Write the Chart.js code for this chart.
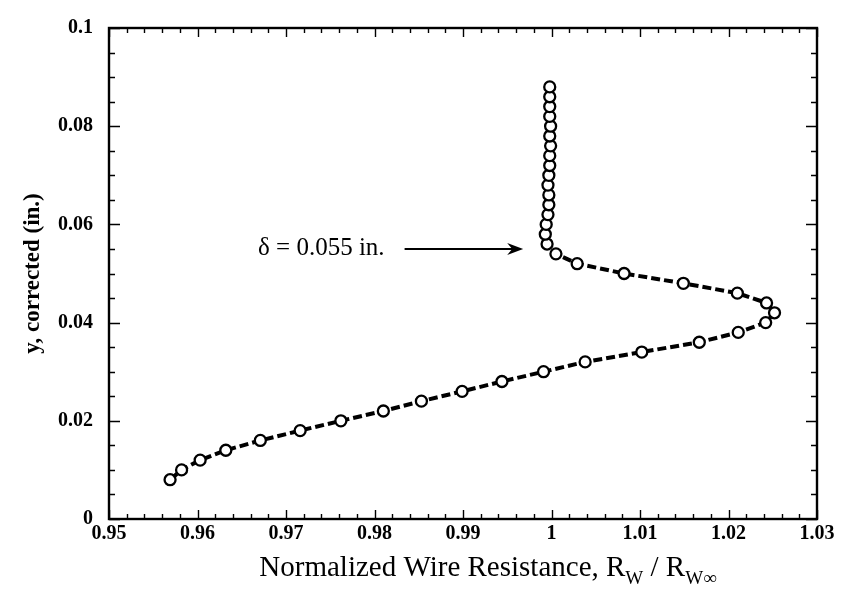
<!DOCTYPE html>
<html>
<head>
<meta charset="utf-8">
<script src="https://cdn.jsdelivr.net/npm/chart.js@4.4.1/dist/chart.umd.min.js"></script>
<style>
  html, body { margin: 0; padding: 0; background: #ffffff; }
  #wrap { width: 841px; height: 591px; position: relative; }
</style>
</head>
<body>
<div id="wrap"><canvas id="c" width="841" height="591"></canvas></div>
<script>
// ---------- data ----------
const resistance = [
  0.9569, 0.9582, 0.9603, 0.9632, 0.9671, 0.9716, 0.9762, 0.9810, 0.9853, 0.9899,
  0.9944, 0.9991, 1.0038, 1.0102, 1.0167, 1.0211, 1.0242, 1.0252, 1.0243, 1.0210,
  1.0149, 1.0082, 1.0029, 1.0005,
  0.9995, 0.9993, 0.9994, 0.9996, 0.9997, 0.9997, 0.9996, 0.9997, 0.9998, 0.9998,
  0.9999, 0.9998, 0.9999, 0.9998, 0.9998, 0.9998, 0.9998
];
const yCorrected = [
  0.008, 0.010, 0.012, 0.014, 0.016, 0.018, 0.020, 0.022, 0.024, 0.026,
  0.028, 0.030, 0.032, 0.034, 0.036, 0.038, 0.040, 0.042, 0.044, 0.046,
  0.048, 0.050, 0.052, 0.054,
  0.056, 0.058, 0.060, 0.062, 0.064, 0.066, 0.068, 0.070, 0.072, 0.074,
  0.076, 0.078, 0.080, 0.082, 0.084, 0.086, 0.088
];
const lineCount = 24; // dashed curve runs through the points up to y = 0.054

const xTickValues = [0.95, 0.96, 0.97, 0.98, 0.99, 1.00, 1.01, 1.02, 1.03];
const xTickLabels = ['0.95', '0.96', '0.97', '0.98', '0.99', '1', '1.01', '1.02', '1.03'];
const yTickValues = [0, 0.02, 0.04, 0.06, 0.08, 0.1];
const yTickLabels = ['0', '0.02', '0.04', '0.06', '0.08', '0.1'];

const deltaValue = 0.055;
const deltaText = 'δ = 0.055 in.';
const arrowFromX = 0.9834;
const arrowToX = 0.9968;

const yTitle = 'y, corrected (in.)';
const xTitleParts = [
  { t: 'Normalized Wire Resistance, R', sub: false },
  { t: 'W', sub: true },
  { t: ' / R', sub: false },
  { t: 'W∞', sub: true }
];

// ---------- chart ----------
const SERIF = '"Liberation Serif", "Times New Roman", Times, serif';
const points = resistance.map((x, i) => ({ x: x, y: yCorrected[i] }));
const linePts = points.slice(0, lineCount);

const frameAndTicks = {
  id: 'frameAndTicks',
  afterDatasetsDraw(chart) {
    const ctx = chart.ctx;
    const a = chart.chartArea;
    const xs = chart.scales.x, ys = chart.scales.y;
    ctx.save();
    ctx.strokeStyle = '#000';
    ctx.lineWidth = 1.4;
    ctx.beginPath();
    // x ticks every 0.002, major every 0.01
    for (let k = 0; k <= 40; k++) {
      const v = 0.95 + k * 0.002;
      const px = Math.round(xs.getPixelForValue(v)) + 0.5;
      const len = (k % 5 === 0) ? 9 : 5;
      ctx.moveTo(px, a.bottom); ctx.lineTo(px, a.bottom - len);
      ctx.moveTo(px, a.top); ctx.lineTo(px, a.top + len);
    }
    // y ticks every 0.005, major every 0.02
    for (let k = 0; k <= 20; k++) {
      const v = k * 0.005;
      const py = Math.round(ys.getPixelForValue(v)) + 0.5;
      const len = (k % 4 === 0) ? 11 : 6;
      ctx.moveTo(a.left, py); ctx.lineTo(a.left + len, py);
      ctx.moveTo(a.right, py); ctx.lineTo(a.right - len, py);
    }
    ctx.stroke();
    ctx.lineWidth = 2.4;
    ctx.strokeRect(a.left, a.top, a.right - a.left, a.bottom - a.top);
    ctx.restore();
  }
};

const annotations = {
  id: 'annotations',
  afterDraw(chart) {
    const ctx = chart.ctx;
    const xs = chart.scales.x, ys = chart.scales.y;
    const a = chart.chartArea;
    ctx.save();
    ctx.fillStyle = '#000';
    ctx.strokeStyle = '#000';
    // arrow
    const y = ys.getPixelForValue(deltaValue);
    const x0 = xs.getPixelForValue(arrowFromX);
    const x1 = xs.getPixelForValue(arrowToX);
    ctx.lineWidth = 2;
    ctx.beginPath();
    ctx.moveTo(x0, y); ctx.lineTo(x1 - 8, y);
    ctx.stroke();
    ctx.beginPath();
    ctx.moveTo(x1, y);
    ctx.lineTo(x1 - 16, y - 6);
    ctx.lineTo(x1 - 11, y);
    ctx.lineTo(x1 - 16, y + 6);
    ctx.closePath();
    ctx.fill();
    // delta label
    ctx.font = '25px ' + SERIF;
    ctx.textAlign = 'right';
    ctx.textBaseline = 'middle';
    ctx.fillText(deltaText, x0 - 20, y - 1);

    // y title (rotated)
    ctx.save();
    ctx.translate(33, (a.top + a.bottom) / 2);
    ctx.rotate(-Math.PI / 2);
    ctx.font = 'bold 23px ' + SERIF;
    ctx.textAlign = 'center';
    ctx.textBaseline = 'middle';
    ctx.fillText(yTitle, 0, 0);
    ctx.restore();

    // x title with subscripts
    const mainFont = '29px ' + SERIF;
    const subFont = '19px ' + SERIF;
    let total = 0;
    xTitleParts.forEach(p => { ctx.font = p.sub ? subFont : mainFont; total += ctx.measureText(p.t).width; });
    let cx = 488 - total / 2;
    const base = 576;
    ctx.textAlign = 'left';
    ctx.textBaseline = 'alphabetic';
    xTitleParts.forEach(p => {
      ctx.font = p.sub ? subFont : mainFont;
      ctx.fillText(p.t, cx, p.sub ? base + 8 : base);
      cx += ctx.measureText(p.t).width;
    });
    ctx.restore();
  }
};

new Chart(document.getElementById('c'), {
  type: 'scatter',
  data: {
    datasets: [
      {
        label: 'points',
        data: points,
        showLine: false,
        pointRadius: 5.5,
        pointHoverRadius: 5.5,
        pointBorderWidth: 2.3,
        pointBackgroundColor: '#ffffff',
        pointBorderColor: '#000000',
        order: 1
      },
      {
        label: 'curve',
        data: linePts,
        showLine: true,
        borderColor: '#000000',
        borderWidth: 4,
        borderDash: [9, 4],
        pointRadius: 0,
        pointHoverRadius: 0,
        fill: false,
        tension: 0,
        order: 2
      }
    ]
  },
  options: {
    responsive: false,
    animation: false,
    events: [],
    layout: { padding: { left: 0, top: 26, right: 24, bottom: 0 } },
    plugins: { legend: { display: false }, tooltip: { enabled: false } },
    scales: {
      x: {
        type: 'linear',
        min: 0.95, max: 1.03,
        grid: { display: false, drawTicks: false },
        border: { display: false },
        afterFit(scale) { scale.height = 72; },
        afterBuildTicks(scale) { scale.ticks = xTickValues.map(v => ({ value: v })); },
        ticks: {
          autoSkip: false,
          maxRotation: 0,
          padding: 3,
          color: '#000',
          font: { family: SERIF, size: 20, weight: 'bold' },
          callback: (v, i) => xTickLabels[i]
        }
      },
      y: {
        type: 'linear',
        min: 0, max: 0.1,
        grid: { display: false, drawTicks: false },
        border: { display: false },
        afterFit(scale) { scale.width = 109; },
        afterBuildTicks(scale) { scale.ticks = yTickValues.map(v => ({ value: v })); },
        ticks: {
          autoSkip: false,
          padding: 16,
          color: '#000',
          font: { family: SERIF, size: 20, weight: 'bold' },
          callback: (v, i) => yTickLabels[i]
        }
      }
    }
  },
  plugins: [frameAndTicks, annotations]
});
</script>
</body>
</html>
